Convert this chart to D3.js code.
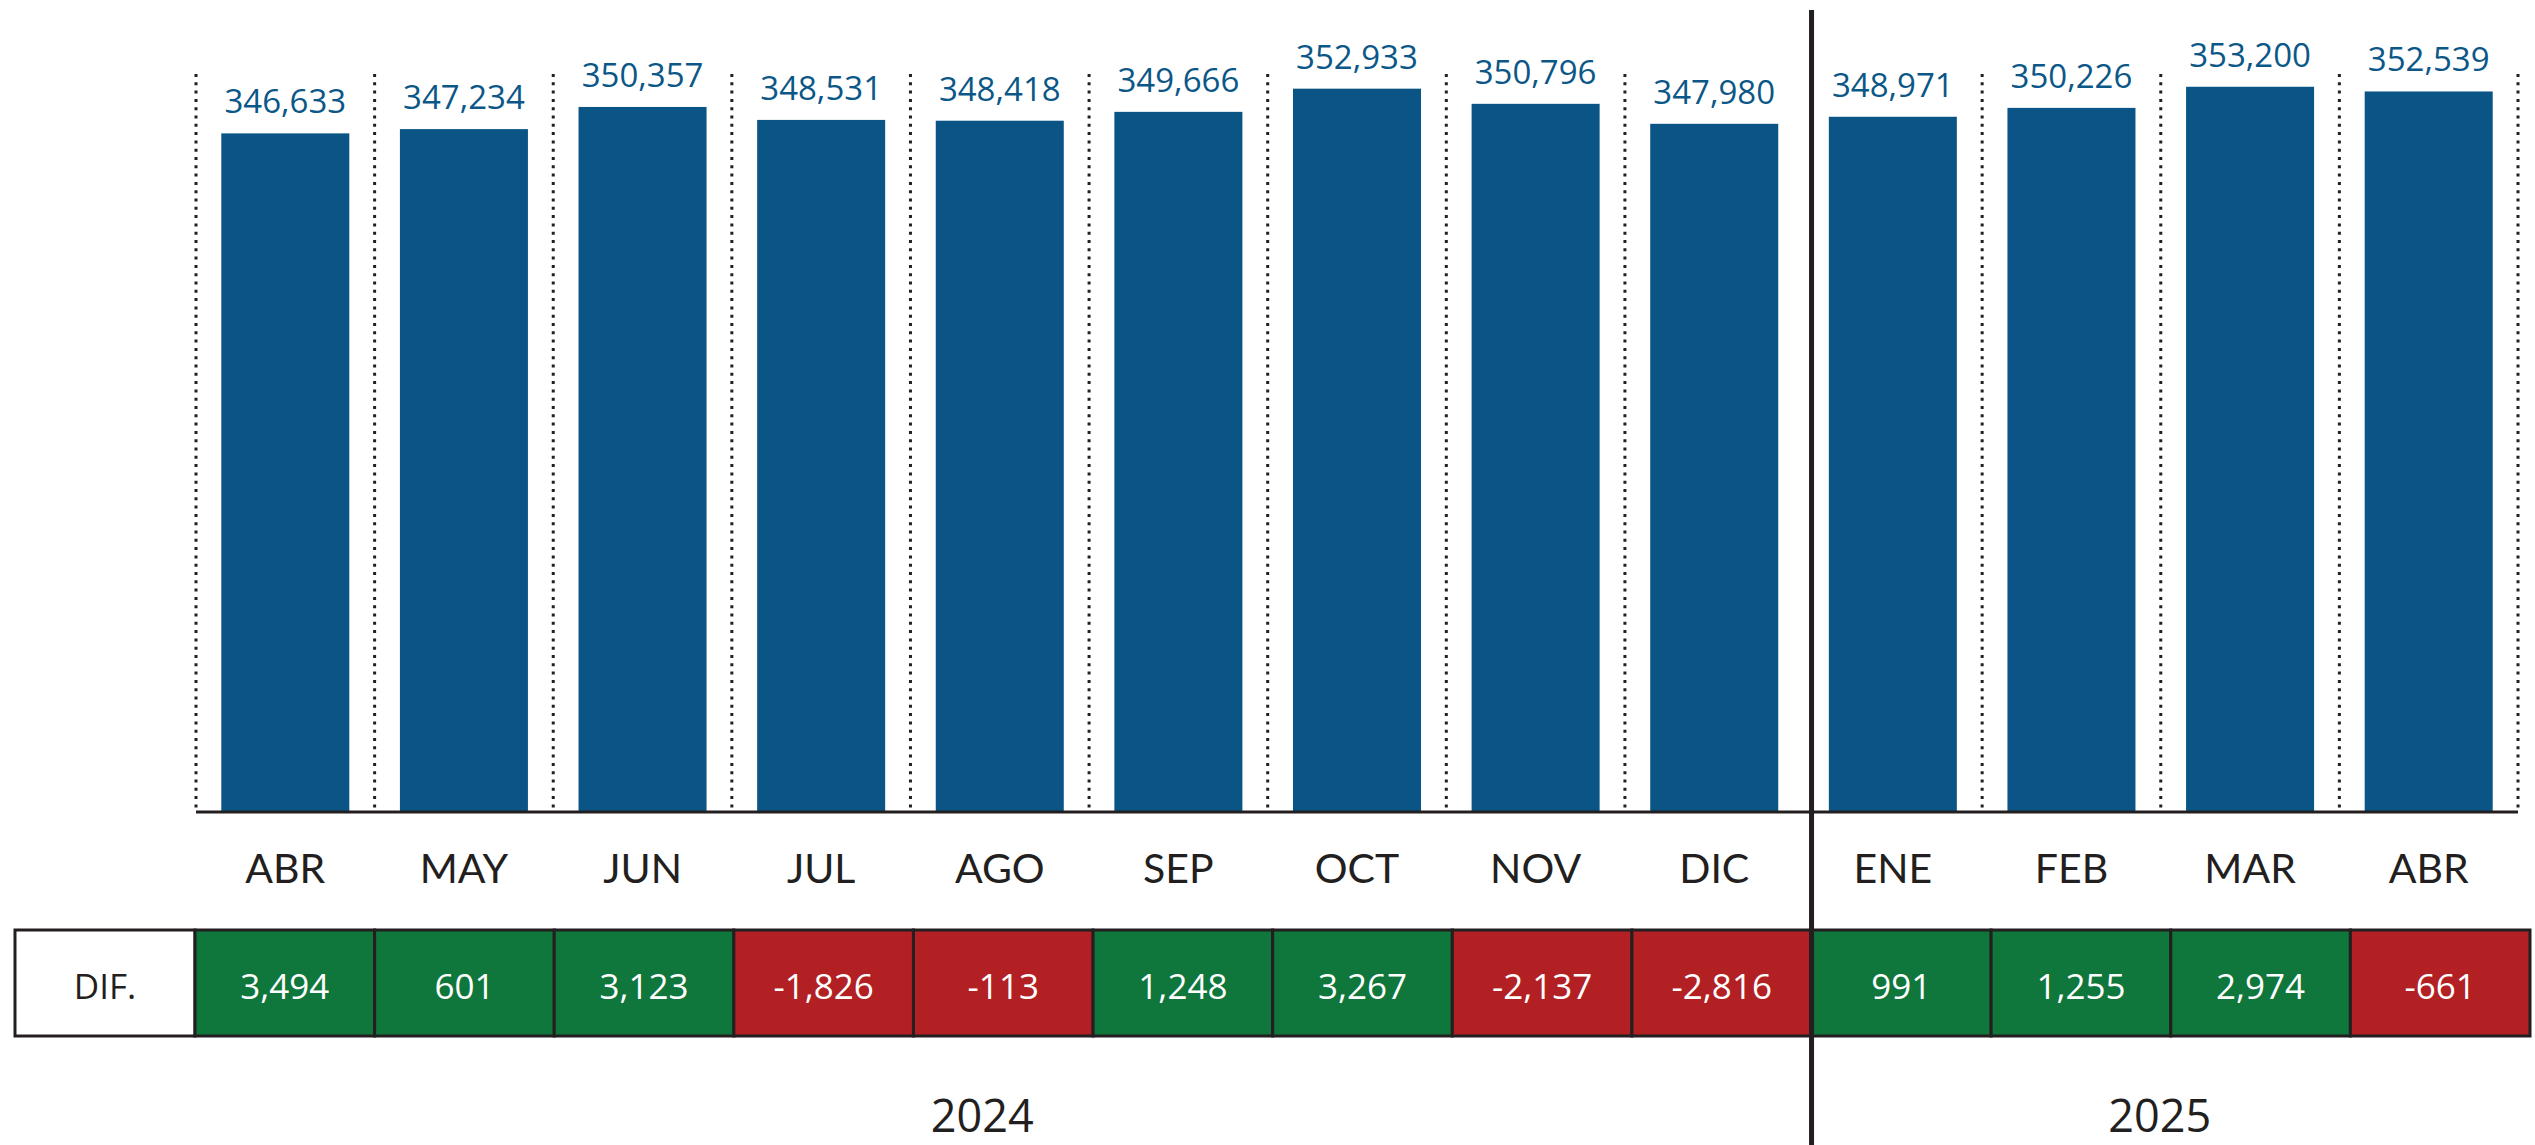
<!DOCTYPE html>
<html>
<head>
<meta charset="utf-8">
<script src="https://cdn.jsdelivr.net/npm/d3@7"></script>
<style>
  html, body { margin: 0; padding: 0; background: #ffffff; }
  svg { display: block; }
</style>
</head>
<body>
<svg id="chart" width="2535" height="1145"></svg>
<script>
// ---- data ----
const months = ["ABR", "MAY", "JUN", "JUL", "AGO", "SEP", "OCT", "NOV", "DIC", "ENE", "FEB", "MAR", "ABR"];
const values = [346633, 347234, 350357, 348531, 348418, 349666, 352933, 350796, 347980, 348971, 350226, 353200, 352539];
const diffs = [3494, 601, 3123, -1826, -113, 1248, 3267, -2137, -2816, 991, 1255, 2974, -661];
const years = ["2024", "2025"];
const yearCounts = [9, 4];
const diffLabel = "DIF.";

// ---- layout / style ----
const W = 2535, H = 1145;
const plotLeft = 196, plotRight = 2518, plotTop = 74, axisY = 812;
const tableLeft = 15, tableFirst = 195, tableRight = 2530, tableTop = 930, tableBottom = 1036;
const dark = "#231f20";
const barColor = "#0a5585";
const labelBlue = "#0b5787";
const green = "#0f763c";
const red = "#b22024";
const numFont = "'Open Sans', 'Noto Sans', sans-serif";
const monthFont = "Lato, 'Noto Sans', sans-serif";

const fmt = d3.formatLocale({decimal: ".", thousands: ",", grouping: [3], currency: ["", ""], minus: "-"}).format(",");

const svg = d3.select("#chart");
svg.append("rect").attr("width", W).attr("height", H).attr("fill", "#fff");

const idx = d3.range(months.length);

// scales
const xOuter = d3.scaleBand().domain(idx).range([plotLeft, plotRight]).padding(0);
const x = d3.scaleBand().domain(idx).range([plotLeft, plotRight]).paddingInner(0.2833).paddingOuter(0.14165);
const y = d3.scaleLinear().domain([251000, 355000]).range([axisY, plotTop]);
const tX = d3.scaleBand().domain(idx).range([tableFirst, tableRight]).padding(0);

// year boundaries (index where new year starts)
const yearStarts = yearCounts.map((c, i) => d3.sum(yearCounts.slice(0, i)));
const dividerIdx = yearStarts[1];

// dotted separators (skip the year divider)
const sepIdx = d3.range(months.length + 1).filter(i => i !== dividerIdx);
svg.append("g").selectAll("line").data(sepIdx).join("line")
  .attr("x1", i => i < months.length ? xOuter(i) : xOuter(months.length - 1) + xOuter.bandwidth())
  .attr("x2", i => i < months.length ? xOuter(i) : xOuter(months.length - 1) + xOuter.bandwidth())
  .attr("y1", plotTop).attr("y2", axisY)
  .attr("stroke", dark).attr("stroke-width", 3).attr("stroke-dasharray", "3,5.3");

// bars
svg.append("g").selectAll("rect").data(values).join("rect")
  .attr("x", (d, i) => x(i))
  .attr("width", x.bandwidth())
  .attr("y", d => y(d))
  .attr("height", d => axisY - y(d))
  .attr("fill", barColor);

// value labels
svg.append("g").selectAll("text").data(values).join("text")
  .attr("x", (d, i) => x(i) + x.bandwidth() / 2)
  .attr("y", d => y(d) - 20)
  .attr("text-anchor", "middle")
  .attr("font-family", numFont)
  .attr("font-size", 33)
  .attr("fill", labelBlue)
  .text(d => fmt(d));

// x axis line
const xAxis = d3.axisBottom(xOuter).tickSize(0).tickFormat(i => months[i]).tickPadding(0);
const axG = svg.append("g").attr("transform", `translate(0,${axisY})`).call(xAxis);
axG.select(".domain").attr("stroke", dark).attr("stroke-width", 3)
  .attr("d", `M${plotLeft},0H${plotRight}`);
axG.selectAll(".tick text")
  .attr("y", 883 - axisY).attr("dy", 0)
  .attr("font-family", monthFont).attr("font-size", 41)
  .attr("fill", dark);

// table
const tbl = svg.append("g");
tbl.append("rect")
  .attr("x", tableLeft).attr("y", tableTop)
  .attr("width", tableFirst - tableLeft).attr("height", tableBottom - tableTop)
  .attr("fill", "#fff").attr("stroke", dark).attr("stroke-width", 3);
tbl.append("text")
  .attr("x", (tableLeft + tableFirst) / 2).attr("y", 999)
  .attr("text-anchor", "middle")
  .attr("font-family", numFont).attr("font-size", 35).attr("fill", dark)
  .text(diffLabel);
tbl.selectAll("rect.cell").data(diffs).join("rect").attr("class", "cell")
  .attr("x", (d, i) => tX(i)).attr("y", tableTop)
  .attr("width", tX.bandwidth()).attr("height", tableBottom - tableTop)
  .attr("fill", d => d >= 0 ? green : red)
  .attr("stroke", dark).attr("stroke-width", 3);
tbl.selectAll("text.cell").data(diffs).join("text").attr("class", "cell")
  .attr("x", (d, i) => tX(i) + tX.bandwidth() / 2).attr("y", 999)
  .attr("text-anchor", "middle")
  .attr("font-family", numFont).attr("font-size", 35).attr("fill", "#fff")
  .text(d => fmt(d));

// year divider
const divX = tX(dividerIdx);
svg.append("line")
  .attr("x1", divX).attr("x2", divX)
  .attr("y1", 10).attr("y2", H)
  .attr("stroke", dark).attr("stroke-width", 5);

// year labels
const yearX = [
  (tX(yearStarts[0]) + tX(dividerIdx)) / 2 - 21,
  (xOuter(yearStarts[1]) + xOuter(months.length - 1) + xOuter.bandwidth()) / 2 - 1
];
svg.append("g").selectAll("text").data(years).join("text")
  .attr("x", (d, i) => yearX[i]).attr("y", 1132)
  .attr("text-anchor", "middle")
  .attr("font-family", numFont).attr("font-size", 45).attr("fill", dark)
  .text(d => d);
</script>
</body>
</html>
